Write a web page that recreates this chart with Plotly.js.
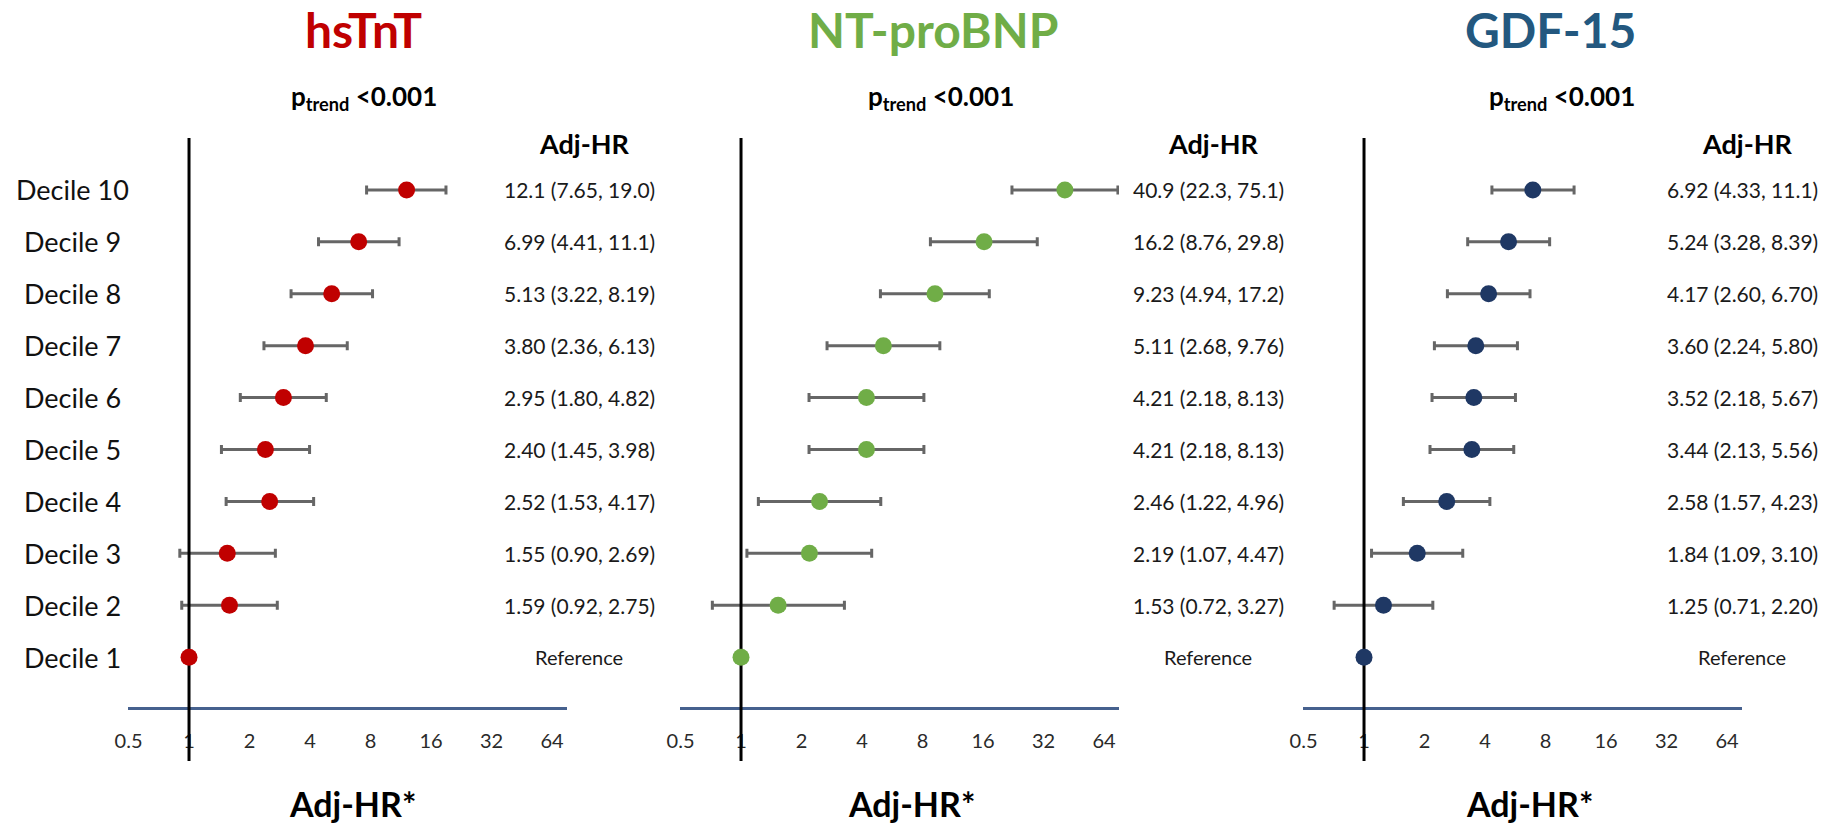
<!DOCTYPE html>
<html>
<head>
<meta charset="utf-8">
<script src="https://cdn.plot.ly/plotly-3.0.1.min.js"></script>
<style>
  html, body { margin: 0; padding: 0; background: #ffffff; }
  #chart { width: 1830px; height: 828px; }
</style>
</head>
<body>
<div id="chart"></div>
<script>
// ---------------- DATA ----------------
const deciles = ['Decile 1','Decile 2','Decile 3','Decile 4','Decile 5','Decile 6','Decile 7','Decile 8','Decile 9','Decile 10'];
const decileRank = [1,2,3,4,5,6,7,8,9,10];

const markers = ['hsTnT', 'NT-proBNP', 'GDF-15'];

// Adjusted hazard ratios (Decile 1 = reference)
const hsTnT_hr = [1, 1.59, 1.55, 2.52, 2.40, 2.95, 3.80, 5.13, 6.99, 12.1];
const hsTnT_lo = [null, 0.92, 0.90, 1.53, 1.45, 1.80, 2.36, 3.22, 4.41, 7.65];
const hsTnT_hi = [null, 2.75, 2.69, 4.17, 3.98, 4.82, 6.13, 8.19, 11.1, 19.0];

const ntprobnp_hr = [1, 1.53, 2.19, 2.46, 4.21, 4.21, 5.11, 9.23, 16.2, 40.9];
const ntprobnp_lo = [null, 0.72, 1.07, 1.22, 2.18, 2.18, 2.68, 4.94, 8.76, 22.3];
const ntprobnp_hi = [null, 3.27, 4.47, 4.96, 8.13, 8.13, 9.76, 17.2, 29.8, 75.1];

const gdf15_hr = [1, 1.25, 1.84, 2.58, 3.44, 3.52, 3.60, 4.17, 5.24, 6.92];
const gdf15_lo = [null, 0.71, 1.09, 1.57, 2.13, 2.18, 2.24, 2.60, 3.28, 4.33];
const gdf15_hi = [null, 2.20, 3.10, 4.23, 5.56, 5.67, 5.80, 6.70, 8.39, 11.1];

const pTrend = ['<0.001', '<0.001', '<0.001'];
const referenceHR = 1;
const referenceLabel = 'Reference';

const tickVals = [0.5, 1, 2, 4, 8, 16, 32, 64];
const tickText = ['0.5', '1', '2', '4', '8', '16', '32', '64'];

// ---------------- STYLE ----------------
const W = 1830, H = 828;
const FONT = 'Lato, "Open Sans", "DejaVu Sans", sans-serif';
const colors = ['#C00000', '#70AD47', '#1F3864'];
const titleColors = ['#C00000', '#70AD47', '#23587F'];
const panelPx = [[128, 567], [680, 1119], [1303, 1742]];
const titleX = [363, 933, 1550];
const ptrendX = [364, 941, 1562];
const footX = [352, 911, 1529];
const valX = [579, 1208, 1742];
const axisLineY = 708;
const yTopPx = 138, yBotPx = 761;
const xRange = [Math.log10(0.497), 1.881];

const series = [
  {hr: hsTnT_hr, lo: hsTnT_lo, hi: hsTnT_hi},
  {hr: ntprobnp_hr, lo: ntprobnp_lo, hi: ntprobnp_hi},
  {hr: gdf15_hr, lo: gdf15_lo, hi: gdf15_hi}
];

function fmt(v) { return v < 1 ? v.toFixed(2) : v.toPrecision(3); }
const px2x = p => p / W;
const px2y = p => 1 - p / H;

const traces = [];
const annotations = [];
const layout = {
  width: W, height: H,
  margin: {l: 0, r: 0, t: 0, b: 0},
  paper_bgcolor: '#ffffff', plot_bgcolor: 'rgba(0,0,0,0)',
  showlegend: false,
  font: {family: FONT, color: '#111111'},
  yaxis: {
    range: [-1, 11], domain: [px2y(yBotPx), px2y(yTopPx)],
    showgrid: false, zeroline: false, showline: false, showticklabels: false, ticks: ''
  },
  annotations: annotations
};

series.forEach((s, i) => {
  const xa = i === 0 ? 'x' : 'x' + (i + 1);
  const axKey = i === 0 ? 'xaxis' : 'xaxis' + (i + 1);
  layout[axKey] = {
    type: 'log', range: xRange,
    domain: [px2x(panelPx[i][0]), px2x(panelPx[i][1])],
    anchor: 'free', position: px2y(axisLineY),
    showgrid: false, zeroline: false,
    showline: true, linecolor: '#46618E', linewidth: 3,
    tickmode: 'array', tickvals: tickVals, ticktext: tickText,
    ticks: 'outside', ticklen: 14, tickcolor: 'rgba(0,0,0,0)',
    tickfont: {family: FONT, size: 20, color: '#2a2a2a'},
    layer: 'below traces'
  };

  // error bars (rows with CI)
  const idx = decileRank.map((d, k) => k).filter(k => s.lo[k] !== null);
  traces.push({
    type: 'scatter', mode: 'markers', xaxis: xa, yaxis: 'y',
    x: idx.map(k => s.hr[k]), y: idx.map(k => decileRank[k]),
    marker: {size: 17, color: 'rgba(0,0,0,0)'},
    error_x: {
      type: 'data', symmetric: false,
      array: idx.map(k => s.hi[k] - s.hr[k]),
      arrayminus: idx.map(k => s.hr[k] - s.lo[k]),
      color: '#666666', thickness: 3, width: 4.5
    },
    hoverinfo: 'skip'
  });
  // reference line at HR = 1
  traces.push({
    type: 'scatter', mode: 'lines', xaxis: xa, yaxis: 'y',
    x: [referenceHR, referenceHR], y: [-1, 11],
    line: {color: '#000000', width: 3}, hoverinfo: 'skip'
  });
  // point estimates
  traces.push({
    type: 'scatter', mode: 'markers', xaxis: xa, yaxis: 'y',
    x: s.hr, y: decileRank,
    marker: {size: 17, color: colors[i], line: {width: 0}},
    hoverinfo: 'skip'
  });

  // panel title
  annotations.push({xref: 'paper', yref: 'paper', x: px2x(titleX[i]), y: px2y(29),
    xanchor: 'center', yanchor: 'middle', showarrow: false,
    text: '<b>' + markers[i] + '</b>', font: {family: FONT, size: 48, color: titleColors[i]}});
  // p trend
  annotations.push({xref: 'paper', yref: 'paper', x: px2x(ptrendX[i]), y: px2y(98),
    xanchor: 'center', yanchor: 'middle', showarrow: false,
    text: '<b>p<sub>trend</sub> ' + pTrend[i].replace('<', '&lt;') + '</b>',
    font: {family: FONT, size: 26, color: '#000000'}});
  // column header
  annotations.push({xref: 'paper', yref: 'paper', x: px2x(valX[i] + 5), y: px2y(143),
    xanchor: 'center', yanchor: 'middle', showarrow: false,
    text: '<b>Adj-HR</b>', font: {family: FONT, size: 27, color: '#000000'}});
  // axis title
  annotations.push({xref: 'paper', yref: 'paper', x: px2x(footX[i]), y: px2y(803),
    xanchor: 'center', yanchor: 'middle', showarrow: false,
    text: '<b>Adj-HR*</b>', font: {family: FONT, size: 34, color: '#000000'}});
  // value texts
  decileRank.forEach((d, k) => {
    const txt = s.lo[k] === null ? referenceLabel
      : fmt(s.hr[k]) + ' (' + fmt(s.lo[k]) + ', ' + fmt(s.hi[k]) + ')';
    annotations.push({xref: 'paper', yref: 'y', x: px2x(valX[i]), y: d,
      xanchor: 'center', yanchor: 'middle', showarrow: false,
      text: txt, font: {family: FONT, size: s.lo[k] === null ? 20 : 21, color: '#1a1a1a'}});
  });
});

// decile row labels
decileRank.forEach((d, k) => {
  annotations.push({xref: 'paper', yref: 'y', x: px2x(72), y: d,
    xanchor: 'center', yanchor: 'middle', showarrow: false,
    text: deciles[k], font: {family: FONT, size: 27, color: '#111111'}});
});

Plotly.newPlot('chart', traces, layout, {staticPlot: true, displayModeBar: false});
</script>
</body>
</html>
